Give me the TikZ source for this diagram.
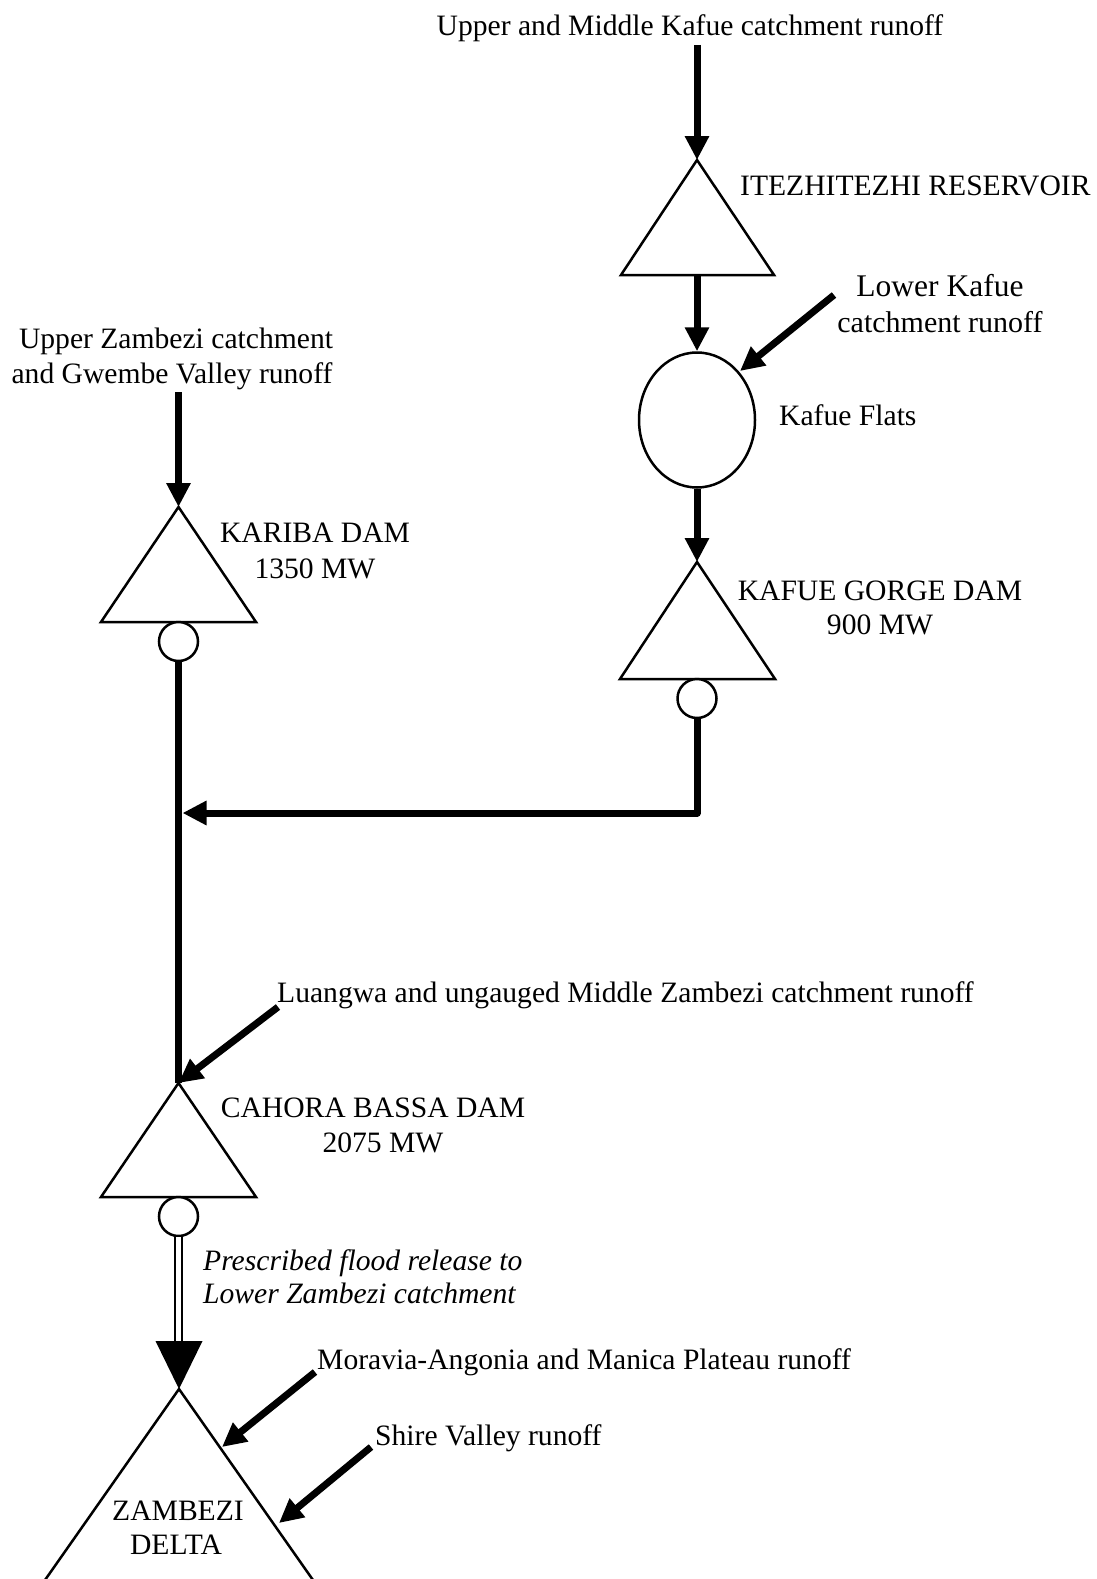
\documentclass[tikz,border=0pt]{standalone}
\usepackage{fontspec}
\setmainfont{Liberation Serif}
\usetikzlibrary{arrows.meta,shapes.geometric}
\begin{document}
\begin{tikzpicture}[x=1pt,y=-1pt,
  flow/.style={line width=7pt,-{Triangle[width=23pt,length=24pt]}},
  pipe/.style={line width=7pt,line join=round},
  outline/.style={line width=2.5pt,line join=miter},
  lbl/.style={font=\fontsize{29.6}{35}\selectfont, inner sep=0pt, anchor=base},
  lblw/.style={lbl, anchor=base west},
  turbine/.style={circle, draw, line width=2.5pt, minimum size=39pt, inner sep=0pt, fill=white}
]
\useasboundingbox (0,0) rectangle (1096,1579);
\begin{scope}
\clip (0,0) rectangle (1096,1579);

% ---------- Itezhitezhi reservoir ----------
\coordinate (itz) at (697,160);
\coordinate (itzb) at (697,275);
\draw[outline] (itz) -- (774,275) -- (621,275) -- cycle;

% ---------- Kafue Flats ----------
\node[ellipse, draw, line width=2.5pt, minimum width=116pt, minimum height=135pt, inner sep=0pt] (flats) at (697,420) {};

% ---------- Kafue Gorge dam ----------
\coordinate (kg) at (697,562);
\draw[outline] (kg) -- (775,679) -- (620,679) -- cycle;
\node[turbine] (kgt) at (697,698.5) {};

% ---------- Kariba dam ----------
\coordinate (kar) at (178.5,507);
\draw[outline] (kar) -- (256,622) -- (101,622) -- cycle;
\node[turbine] (kart) at (178.5,641.5) {};

% ---------- Cahora Bassa dam ----------
\coordinate (cb) at (178.5,1083);
\draw[outline] (cb) -- (256,1197) -- (101,1197) -- cycle;
\node[turbine] (cbt) at (178.5,1216.5) {};

% ---------- Zambezi delta ----------
\coordinate (delta) at (179,1389);
\draw[outline] (31,1600) -- (delta) -- (327,1600);

% ---------- texts ----------
\node[lbl] (t-umk) at (690,36) {Upper and Middle Kafue catchment runoff};
\node[lblw] (t-itz) at (740,195) {ITEZHITEZHI RESERVOIR};
\node[lbl, font=\fontsize{31.5}{36}\selectfont] (t-lk1) at (940,296) {Lower Kafue};
\node[lbl, font=\fontsize{30}{36}\selectfont] (t-lk2) at (940,332) {catchment runoff};
\node[lblw] (t-flats) at (779,425) {Kafue Flats};
\node[lbl] (t-uz1) at (176,348) {Upper Zambezi catchment};
\node[lbl] (t-uz2) at (172,383) {and Gwembe Valley runoff};
\node[lbl] (t-kar1) at (315,542) {KARIBA DAM};
\node[lbl] (t-kar2) at (315,578) {1350 MW};
\node[lbl] (t-kg1) at (880,600) {KAFUE GORGE DAM};
\node[lbl] (t-kg2) at (880,634) {900 MW};
\node[lblw] (t-lua) at (277,1002) {Luangwa and ungauged Middle Zambezi catchment runoff};
\node[lbl] (t-cb1) at (373,1117) {CAHORA BASSA DAM};
\node[lbl] (t-cb2) at (383,1152) {2075 MW};
\node[lblw, font=\fontsize{29.6}{35}\selectfont\itshape] (t-pr1) at (203,1270) {Prescribed flood release to};
\node[lblw, font=\fontsize{29.6}{35}\selectfont\itshape] (t-pr2) at (203,1303) {Lower Zambezi catchment};
\node[lblw] (t-mor) at (317,1369) {Moravia-Angonia and Manica Plateau runoff};
\node[lblw] (t-shi) at (375,1445) {Shire Valley runoff};
\node[lbl] (t-d1) at (178,1520) {ZAMBEZI};
\node[lbl] (t-d2) at (176,1554) {DELTA};

% ---------- connectors ----------
\coordinate (s-umk) at (697,45);
\draw[flow] (s-umk) -- (itz);
\draw[flow] (itzb) -- (flats.north);
\draw[flow] (flats.south) -- (kg);

\coordinate (s-lk) at (834,295);
\coordinate (e-lk) at (740,371);
\draw[flow] (s-lk) -- (e-lk);

\coordinate (s-uz) at (178.5,392);
\draw[flow] (s-uz) -- (kar);

\draw[pipe] (kart.south) -- (cb);
\coordinate (join) at (182.5,813);
\draw[line width=7pt,line join=round,-{Triangle[width=23pt,length=24pt]}] (kgt.south) |- (join);

\coordinate (s-lua) at (278,1007);
\draw[flow] (s-lua) -- (cb);

% prescribed flood release (double line with big head)
\coordinate (headbase) at (178.5,1342);
\draw[line width=2pt, double distance=4.5pt] (cbt.south) -- (headbase);
\fill (155.5,1341) -- (202.5,1341) -- (delta) -- cycle;

\coordinate (s-mor) at (315,1372);
\coordinate (e-mor) at (222,1447);
\draw[flow] (s-mor) -- (e-mor);

\coordinate (s-shi) at (371,1447);
\coordinate (e-shi) at (279,1523);
\draw[flow] (s-shi) -- (e-shi);
\end{scope}
\end{tikzpicture}
\end{document}
